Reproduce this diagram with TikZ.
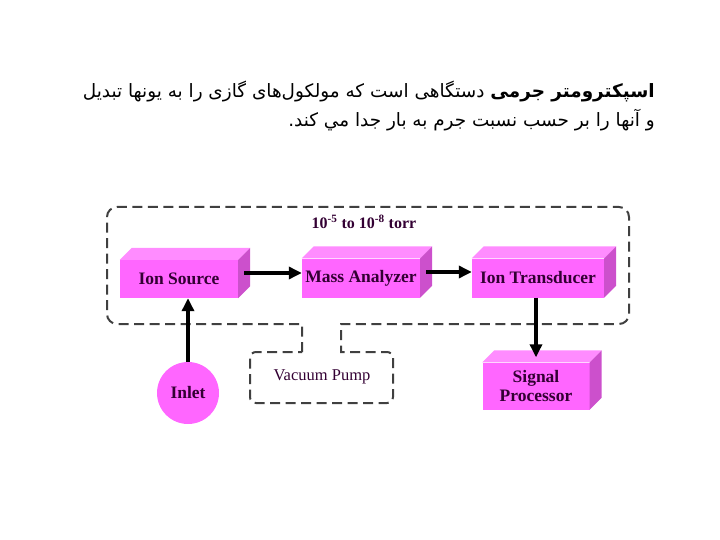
\documentclass[tikz,border=0pt]{standalone}
\usepackage{fontspec}
\setmainfont{Liberation Serif}
\newfontfamily\arabicfont[Script=Arabic]{DejaVu Sans}
\TeXXeTstate=1
\usetikzlibrary{arrows.meta,calc}
\definecolor{frontc}{RGB}{255,102,255}
\definecolor{topc}{RGB}{255,140,255}
\definecolor{sidec}{RGB}{204,80,204}
\definecolor{txtc}{RGB}{51,0,51}
\definecolor{dashc}{RGB}{64,64,64}
\tikzset{
  cube/.style={fill=frontc, inner sep=0pt, text=txtc, align=center,
    font=\fontsize{17.5}{19}\selectfont\bfseries},
  conn/.style={line width=3.5pt, -{Triangle[length=13pt,width=12pt]}},
  dashbox/.style={dashc, line width=2pt, dash pattern=on 10pt off 5.5pt},
  label/.style={text=txtc, font=\fontsize{16.5}{18}\selectfont}
}
\newcommand\mycube[1]{%
  \fill[topc] (#1.north west) -- ++(12,-12) -- ($(#1.north east)+(12,-12)$) -- (#1.north east) -- cycle;
  \fill[sidec] (#1.north east) -- ++(12,-12) -- ($(#1.south east)+(12,-12)$) -- (#1.south east) -- cycle;
}
\begin{document}
\begin{tikzpicture}[x=1pt,y=-1pt]
\useasboundingbox (0,0) rectangle (720,540);
% title
\node[anchor=east, inner sep=0pt] (t1) at (655,92)
  {\arabicfont\fontsize{18.4}{21}\selectfont\beginR\textbf{اسپکترومتر جرمی} دستگاهی است که مولکول‌های گازی را به یونها تبدیل\endR};
\node[anchor=east, inner sep=0pt] (t2) at (655,120)
  {\arabicfont\fontsize{18.4}{21}\selectfont\beginR و آنها را بر حسب نسبت جرم به بار جدا مي كند.\endR};
% dashed enclosure
\draw[dashbox] (302,352) -- (302,324) [rounded corners=10pt] -- (107,324) -- (107,207) -- (629,207) -- (629,324) [sharp corners] -- (341,324) -- (341,352) [rounded corners=6pt] -- (393,352) -- (393,403) -- (250,403) -- (250,352) [sharp corners] -- (302,352);
\node[label, font=\fontsize{16}{18}\selectfont\bfseries] (torr) at (364,222) {10\textsuperscript{-5} to 10\textsuperscript{-8} torr};
\node[label] (vp) at (322,377) {Vacuum Pump};
% boxes
\node[cube, minimum width=118pt, minimum height=38pt] (is) at (179,279) {Ion Source};
\node[cube, minimum width=118pt, minimum height=39pt] (ma) at (361,278) {Mass Analyzer};
\node[cube, minimum width=132pt, minimum height=39pt] (it) at (538,278) {Ion Transducer};
\node[cube, minimum width=107pt, minimum height=47pt] (sp) at (536,386) {Signal\\Processor};
\mycube{is}\mycube{ma}\mycube{it}\mycube{sp}
\node[cube, circle, minimum size=62pt] (in) at (188,393) {Inlet};
% arrows
\coordinate (isr) at ($(is.east)+(6,-6)$);
\coordinate (mar) at ($(ma.east)+(6,-6)$);
\draw[conn] (isr) -- (ma.west |- isr);
\draw[conn] (mar) -- (it.west |- mar);
\draw[conn] (in.north) -- (in.north |- is.south);
\coordinate (spt) at ($(sp.north)+(0,-5)$);
\draw[conn] (it.south -| spt) -- (spt);
\end{tikzpicture}
\end{document}
